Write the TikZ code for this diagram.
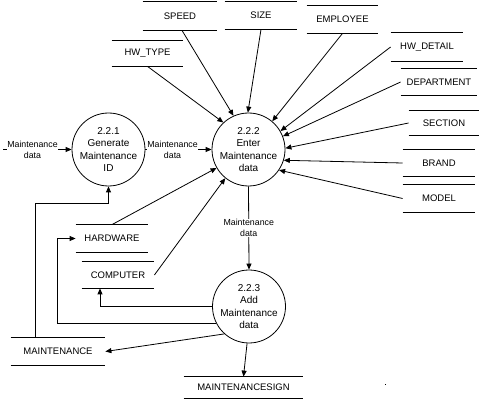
\documentclass[tikz,border=0pt]{standalone}
\usepackage{fontspec}
\setmainfont{Liberation Sans}
\usetikzlibrary{arrows.meta,positioning}

\tikzset{
  flow/.style={-{Triangle[length=6pt,width=5pt]}},
  proc/.style={draw, circle, minimum size=73pt, inner sep=0pt, align=center,
    font=\fontsize{10}{12.3}\selectfont},
  store/.style={inner sep=0pt, font=\fontsize{9.5}{11}\selectfont,
    append after command={
      (\tikzlastnode.north west) edge[-] (\tikzlastnode.north east)
      (\tikzlastnode.south west) edge[-] (\tikzlastnode.south east)}},
  flowlbl/.style={fill=white, inner sep=0.5pt, align=center,
    font=\fontsize{8.8}{11}\selectfont},
}

\begin{document}
\begin{tikzpicture}[x=1pt, y=-1pt, line width=0.8pt]

\useasboundingbox (0,0) rectangle (480,401);

% ========================
% PROCESSES
% ========================

\node[proc] (p1) at (108.5,149.5) {2.2.1\\Generate\\Maintenance\\ID};
\node[proc] (p2) at (248.5,149.5) {2.2.2\\Enter\\Maintenance\\data};
\node[proc] (p3) at (249,306.5) {2.2.3\\Add\\Maintenance\\data};

% ========================
% DATA STORES (top / right)
% ========================

\node[store, minimum width=74pt, minimum height=28pt] (speed) at (180,16) {SPEED};
\node[store, minimum width=72pt, minimum height=27pt] (size) at (261,15.5) {SIZE};
\node[store, minimum width=71pt, minimum height=27pt] (employee) at (342.5,19.5) {EMPLOYEE};
\node[store, minimum width=72pt, minimum height=28pt] (hwdetail) at (427,47) {HW\_DETAIL};
\node[store, minimum width=76pt, minimum height=26pt] (department) at (439,82) {DEPARTMENT};
\node[store, minimum width=70pt, minimum height=24pt] (section) at (444,123) {SECTION};
\node[store, minimum width=72pt, minimum height=26pt] (brand) at (439,163) {BRAND};
\node[store, minimum width=72pt, minimum height=27pt] (model) at (439,198.5) {MODEL};
\node[store, minimum width=71pt, minimum height=25pt] (hwtype) at (147.5,53.5) {HW\_TYPE};

% ========================
% DATA STORES (left / bottom)
% ========================

\node[store, minimum width=72pt, minimum height=27pt] (hardware) at (112,238.5) {HARDWARE};
\node[store, minimum width=72pt, minimum height=26pt] (computer) at (118,275) {COMPUTER};
\node[store, minimum width=94pt, minimum height=27pt] (maint) at (58,351.5) {MAINTENANCE};
\node[store, minimum width=119pt, minimum height=21pt] (maintsign) at (243.5,387.5) {MAINTENANCESIGN};

% ========================
% FLOWS
% ========================

% external input
\coordinate (src) at (3,149.5);
\draw[flow] (src) -- node[flowlbl, pos=0.43] (lblin) {Maintenance\\data} (p1.west);

% 2.2.1 -> 2.2.2 -> 2.2.3
\draw[flow] (p1.east) -- node[flowlbl, pos=0.41] (lbl12) {Maintenance\\data} (p2.west);
\draw[flow] (p2.south) -- node[flowlbl] (lbl23) {Maintenance\\data} (p3.north);

% stores into 2.2.2
\draw[flow] ([xshift=2pt]speed.south) -- (p2.114);
\draw[flow] (hwtype.south) -- (p2.133);
\draw[flow] (size.south) -- (p2.91);
\draw[flow] (employee.south) -- (p2.50);
\draw[flow] (hwdetail.west) -- (p2.30);
\draw[flow] (department.west) -- (p2.21);
\draw[flow] (section.west) -- (p2.2);
\draw[flow] (brand.west) -- (p2.-17);
\draw[flow] (model.west) -- (p2.-34);
\draw[flow] (hardware.north) -- (p2.-150);
\draw[flow] (computer.east) -- (p2.231);

% MAINTENANCE back to 2.2.1
\coordinate (bend1) at (108.5,203);
\draw[flow] ([xshift=-23pt]maint.north) |- (bend1) -- (p1.south);

% out of 2.2.3
\draw[flow] (p3.west) -| ([xshift=-18pt]computer.south);
\draw[flow] (p3.-152) -| ([xshift=-18pt]hardware.west) -- (hardware.west);
\draw[flow] (p3.-132) -- (maint.east);
\draw[flow] (p3.-93) -- (maintsign.north);

% stray mark
\fill (384.5,383.5) rectangle (386,385);

\end{tikzpicture}
\end{document}
